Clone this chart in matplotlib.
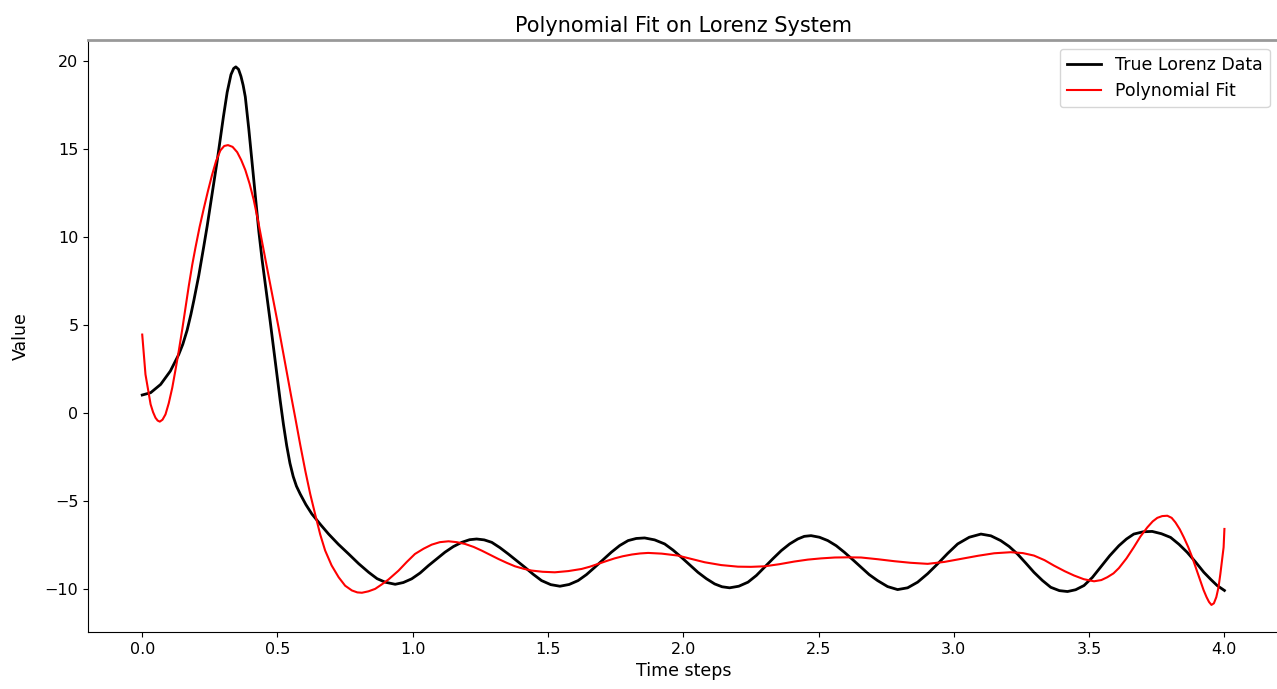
import matplotlib
matplotlib.use("Agg")
import matplotlib.pyplot as plt

# True Lorenz data
true_t = [0.000, 0.031, 0.068, 0.104, 0.135, 0.150, 0.166, 0.180, 0.191, 0.200, 0.209, 0.218, 0.2275,
          0.240, 0.252, 0.264, 0.277, 0.288, 0.300, 0.314, 0.328, 0.338, 0.346, 0.356, 0.365, 0.373,
          0.381, 0.394, 0.406, 0.418, 0.431, 0.443, 0.455, 0.473, 0.492, 0.510, 0.522, 0.534, 0.546,
          0.558, 0.570, 0.584, 0.605, 0.627, 0.660, 0.689, 0.725, 0.763, 0.800, 0.837, 0.868, 0.898, 0.935,
          0.965, 0.996, 1.027, 1.058, 1.089, 1.119, 1.150, 1.181, 1.210, 1.236, 1.264, 1.292, 1.322,
          1.353, 1.384, 1.414, 1.445, 1.476, 1.510, 1.544, 1.578, 1.611, 1.642, 1.673, 1.704, 1.734,
          1.765, 1.796, 1.826, 1.857, 1.894, 1.931, 1.962, 1.993, 2.024, 2.054, 2.085, 2.116, 2.143,
          2.171, 2.205, 2.239, 2.270, 2.300, 2.331, 2.362, 2.393, 2.423, 2.447, 2.472, 2.503, 2.534,
          2.565, 2.595, 2.626, 2.657, 2.687, 2.718, 2.755, 2.792, 2.829, 2.866, 2.903, 2.940, 2.977,
          3.014, 3.057, 3.100, 3.137, 3.173, 3.204, 3.235, 3.266, 3.296, 3.327, 3.358, 3.390, 3.420,
          3.450, 3.481, 3.512, 3.542, 3.576, 3.610, 3.638, 3.665, 3.700, 3.733, 3.767, 3.801, 3.832,
          3.862, 3.893, 3.924, 3.950, 3.973, 4.000]
true_v = [1.02, 1.15, 1.62, 2.38, 3.32, 3.9, 4.7, 5.6, 6.4, 7.1, 7.8, 8.6, 9.45,
          10.6, 11.8, 13.0, 14.3, 15.5, 16.8, 18.2, 19.2, 19.55, 19.64, 19.5, 19.1, 18.6,
          17.94, 16.1, 14.2, 12.3, 10.3, 8.7, 7.3, 5.2, 2.9, 0.7, -0.65, -1.85, -2.85,
          -3.6, -4.15, -4.6, -5.2, -5.73, -6.35, -6.87, -7.45, -8.0, -8.55, -9.04, -9.4, -9.6, -9.72,
          -9.62, -9.41, -9.08, -8.66, -8.27, -7.9, -7.58, -7.34, -7.19, -7.15, -7.2, -7.34, -7.64,
          -8.0, -8.38, -8.75, -9.15, -9.51, -9.74, -9.83, -9.73, -9.51, -9.17, -8.75, -8.32, -7.9,
          -7.52, -7.24, -7.12, -7.09, -7.2, -7.43, -7.78, -8.19, -8.62, -9.04, -9.4, -9.7, -9.86,
          -9.92, -9.83, -9.6, -9.22, -8.75, -8.27, -7.81, -7.43, -7.15, -7.0, -6.96, -7.05, -7.24,
          -7.53, -7.9, -8.32, -8.75, -9.17, -9.51, -9.85, -10.02, -9.92, -9.6, -9.12, -8.56, -7.97,
          -7.43, -7.05, -6.87, -6.97, -7.24, -7.57, -8.0, -8.52, -9.04, -9.5, -9.89, -10.08, -10.13,
          -10.03, -9.79, -9.33, -8.75, -8.1, -7.53, -7.15, -6.87, -6.74, -6.72, -6.85, -7.06, -7.45,
          -7.9, -8.45, -9.04, -9.45, -9.79, -10.07]

# Polynomial fit
fit_t = [0.000, 0.006, 0.012, 0.022, 0.031, 0.040, 0.049, 0.057, 0.065, 0.075, 0.086, 0.098, 0.111,
         0.123, 0.135, 0.148, 0.160, 0.172, 0.185, 0.197, 0.212, 0.2275, 0.243, 0.258, 0.273, 0.289,
         0.303, 0.317, 0.334, 0.351, 0.366, 0.381, 0.397, 0.412, 0.427, 0.443, 0.458, 0.473, 0.488,
         0.504, 0.520, 0.535, 0.550, 0.566, 0.584, 0.603, 0.621, 0.640, 0.658, 0.676, 0.700, 0.726,
         0.750, 0.775, 0.795, 0.812, 0.836, 0.861, 0.886, 0.910, 0.947, 0.978, 1.008, 1.040, 1.070,
         1.100, 1.132, 1.163, 1.193, 1.225, 1.255, 1.286, 1.316, 1.347, 1.378, 1.410, 1.439, 1.480,
         1.525, 1.575, 1.624, 1.655, 1.685, 1.716, 1.746, 1.776, 1.810, 1.840, 1.870, 1.920, 1.980,
         2.030, 2.079, 2.140, 2.202, 2.250, 2.300, 2.355, 2.410, 2.460, 2.509, 2.560, 2.608, 2.657,
         2.720, 2.780, 2.840, 2.903, 2.965, 3.026, 3.090, 3.149, 3.210, 3.255, 3.296, 3.335, 3.370,
         3.410, 3.444, 3.480, 3.518, 3.545, 3.567, 3.590, 3.610, 3.638, 3.665, 3.690, 3.715, 3.735,
         3.752, 3.770, 3.789, 3.805, 3.819, 3.835, 3.850, 3.866, 3.881, 3.896, 3.911, 3.923, 3.934,
         3.943, 3.952, 3.961, 3.970, 3.978, 3.985, 3.991, 3.997, 4.000]
fit_v = [4.45, 3.3, 2.19, 1.3, 0.49, 0.05, -0.27, -0.43, -0.49, -0.38, -0.08, 0.55, 1.43,
         2.45, 3.51, 4.75, 5.96, 7.2, 8.42, 9.4, 10.55, 11.6, 12.6, 13.5, 14.3, 14.9,
         15.15, 15.2, 15.1, 14.8, 14.35, 13.79, 13.0, 12.1, 11.0, 9.7, 8.5, 7.3, 6.1,
         4.85, 3.5, 2.2, 1.0, -0.3, -1.8, -3.3, -4.6, -5.8, -6.9, -7.8, -8.65, -9.32,
         -9.8, -10.07, -10.18, -10.2, -10.12, -9.98, -9.72, -9.45, -8.95, -8.45, -8.0, -7.7, -7.47,
         -7.33, -7.28, -7.33, -7.43, -7.6, -7.81, -8.05, -8.28, -8.5, -8.7, -8.84, -8.94, -9.01,
         -9.04, -8.97, -8.85, -8.72, -8.56, -8.4, -8.25, -8.13, -8.03, -7.97, -7.94, -7.98, -8.09,
         -8.28, -8.47, -8.63, -8.72, -8.73, -8.7, -8.58, -8.43, -8.32, -8.25, -8.2, -8.19, -8.2,
         -8.3, -8.41, -8.5, -8.56, -8.45, -8.28, -8.1, -7.96, -7.9, -7.95, -8.09, -8.35, -8.66,
         -8.98, -9.22, -9.43, -9.55, -9.48, -9.32, -9.1, -8.8, -8.25, -7.62, -7.0, -6.49, -6.15,
         -5.95, -5.85, -5.83, -5.95, -6.21, -6.6, -7.06, -7.6, -8.19, -8.85, -9.51, -10.05, -10.45,
         -10.72, -10.89, -10.8, -10.45, -9.9, -9.13, -8.4, -7.62, -6.58]

fig = plt.figure(figsize=(12.77, 6.89), dpi=100)
ax = fig.add_axes([0.069, 0.083, 0.9322, 0.859])

ax.plot(true_t, true_v, color="black", lw=2, label="True Lorenz Data")
ax.plot(fit_t, fit_v, color="red", lw=1.5, label="Polynomial Fit")

ax.set_title("Polynomial Fit on Lorenz System", fontsize=15)
ax.set_xlabel("Time steps", fontsize=12.5)
ax.set_ylabel("Value", fontsize=12.5, labelpad=11)
ax.tick_params(labelsize=11.5)
ax.legend(loc="upper right", fontsize=12.5)
ax.spines["top"].set_color("#999999")
ax.spines["top"].set_linewidth(2)

fig.savefig("out.png", dpi=100)
